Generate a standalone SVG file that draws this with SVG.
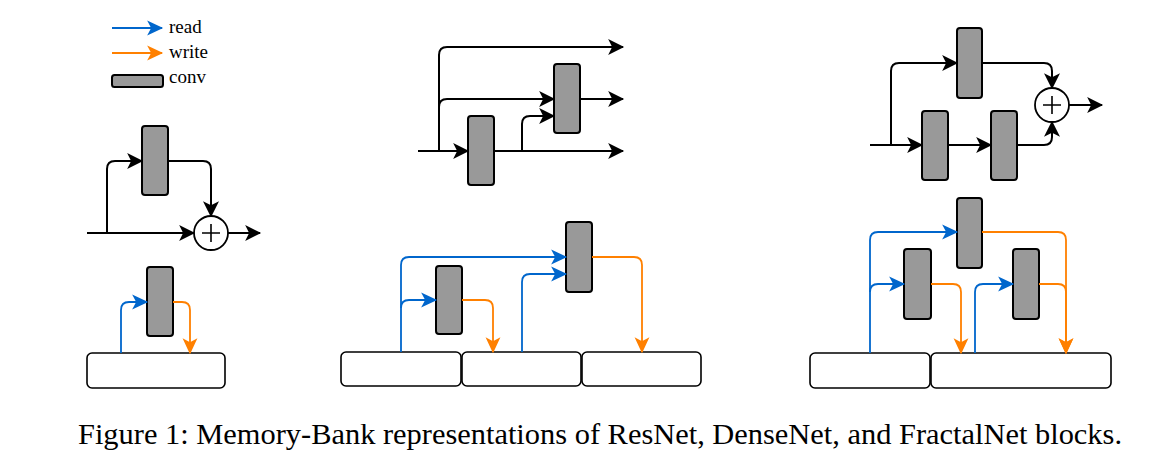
<svg xmlns="http://www.w3.org/2000/svg" width="1154" height="472" viewBox="0 0 1154 472">
  <style>
    .conv { fill: #999999; stroke: #000; stroke-width: 2; }
    .bank { fill: #fff; stroke: #000; stroke-width: 1.6; }
    .sum { fill: #fff; stroke: #000; stroke-width: 1.8; }
    .plus { stroke: #000; stroke-width: 1.6; }
    .k { fill: none; stroke: #000; stroke-width: 2; marker-end: url(#ak); }
    .kn { fill: none; stroke: #000; stroke-width: 2; }
    .r { fill: none; stroke: #0066CC; stroke-width: 1.8; marker-end: url(#ab); }
    .w { fill: none; stroke: #FF8000; stroke-width: 1.8; marker-end: url(#ao); }
    .lbl { font-family: "Liberation Serif", "Times New Roman", serif; font-size: 19px; fill: #000; }
    .cap { font-family: "Liberation Serif", "Times New Roman", serif; font-size: 29px; fill: #000; }
  </style>
  <defs>
    <marker id="ak" markerUnits="userSpaceOnUse" markerWidth="16" markerHeight="16" viewBox="0 -7 14 14" refX="13" refY="0" orient="auto" overflow="visible">
      <path d="M0,-7 L14,0 L0,7 L3.5,0 z" fill="#000"/>
    </marker>
    <marker id="ab" markerUnits="userSpaceOnUse" markerWidth="16" markerHeight="16" viewBox="0 -7 14 14" refX="13" refY="0" orient="auto" overflow="visible">
      <path d="M0,-6.5 L14,0 L0,6.5 L3.5,0 z" fill="#0066CC"/>
    </marker>
    <marker id="ao" markerUnits="userSpaceOnUse" markerWidth="16" markerHeight="16" viewBox="0 -7 14 14" refX="13" refY="0" orient="auto" overflow="visible">
      <path d="M0,-6.5 L14,0 L0,6.5 L3.5,0 z" fill="#FF8000"/>
    </marker>
  </defs>

  <!-- legend -->
  <g id="legend">
    <path class="r" d="M112,28 H162"/>
    <text class="lbl" x="169" y="33">read</text>
    <path class="w" d="M112,53 H162"/>
    <text class="lbl" x="169" y="58">write</text>
    <rect class="conv" x="112" y="75" width="51" height="12" rx="2.5" stroke-width="1.6"/>
    <text class="lbl" x="169" y="83">conv</text>
  </g>

  <!-- ResNet block -->
  <g id="resnet-conv"><rect class="conv" x="142" y="126" width="26" height="69" rx="3"/></g>
  <g id="resnet-sum">
    <circle class="sum" cx="211" cy="233" r="17"/>
    <path class="plus" d="M202,233 H220 M211,224 V242"/>
  </g>
  <g id="resnet-mem-conv"><rect class="conv" x="147" y="267" width="26" height="69" rx="3"/></g>
  <g id="resnet-bank"><rect class="bank" x="87" y="353" width="138" height="35" rx="5"/></g>

  <!-- DenseNet block -->
  <g id="densenet-conv1"><rect class="conv" x="468" y="116" width="26" height="69" rx="3"/></g>
  <g id="densenet-conv2"><rect class="conv" x="554" y="64" width="26" height="69" rx="3"/></g>
  <g id="densenet-mem-conv1"><rect class="conv" x="436" y="266" width="26" height="68" rx="3"/></g>
  <g id="densenet-mem-conv2"><rect class="conv" x="566" y="222" width="26" height="70" rx="3"/></g>
  <g id="densenet-bank1"><rect class="bank" x="341" y="352" width="120" height="34" rx="5"/></g>
  <g id="densenet-bank2"><rect class="bank" x="462" y="352" width="119" height="34" rx="5"/></g>
  <g id="densenet-bank3"><rect class="bank" x="582" y="352" width="119" height="34" rx="5"/></g>

  <!-- FractalNet block -->
  <g id="fractal-conv-top"><rect class="conv" x="957" y="28" width="25" height="70" rx="3"/></g>
  <g id="fractal-conv-left"><rect class="conv" x="922" y="111" width="26" height="69" rx="3"/></g>
  <g id="fractal-conv-right"><rect class="conv" x="991" y="111" width="26" height="69" rx="3"/></g>
  <g id="fractal-sum">
    <circle class="sum" cx="1052" cy="105" r="17"/>
    <path class="plus" d="M1043,105 H1061 M1052,96 V114"/>
  </g>
  <g id="fractal-mem-conv-top"><rect class="conv" x="957" y="198" width="25" height="70" rx="3"/></g>
  <g id="fractal-mem-conv-left"><rect class="conv" x="904" y="249" width="27" height="70" rx="3"/></g>
  <g id="fractal-mem-conv-right"><rect class="conv" x="1013" y="249" width="26" height="70" rx="3"/></g>
  <g id="fractal-bank1"><rect class="bank" x="810" y="353" width="120" height="35" rx="5"/></g>
  <g id="fractal-bank2"><rect class="bank" x="931" y="353" width="180" height="35" rx="5"/></g>

  <g id="connectors">
    <!-- ResNet -->
    <path class="k" d="M87,233 H194"/>
    <path class="k" d="M107,233 V169 Q107,161 115,161 H142"/>
    <path class="k" d="M168,161 H203 Q211,161 211,169 V216"/>
    <path class="k" d="M228,233 H260"/>
    <path class="r" d="M121,353 V310 Q121,302 129,302 H147"/>
    <path class="w" d="M173,302 H182 Q190,302 190,310 V353"/>

    <!-- DenseNet -->
    <path class="k" d="M418,151 H468"/>
    <path class="k" d="M494,151 H623"/>
    <path class="k" d="M439,151 V55 Q439,47 447,47 H623"/>
    <path class="k" d="M439,107 Q439,99 447,99 H554"/>
    <path class="k" d="M580,99 H623"/>
    <path class="k" d="M522,151 V124 Q522,116 530,116 H554"/>
    <path class="r" d="M401,352 V265 Q401,257 409,257 H566"/>
    <path class="r" d="M401,308 Q401,300 409,300 H436"/>
    <path class="w" d="M462,300 H485 Q493,300 493,308 V352"/>
    <path class="r" d="M522,352 V282 Q522,274 530,274 H566"/>
    <path class="w" d="M592,257 H634 Q642,257 642,265 V352"/>

    <!-- FractalNet -->
    <path class="k" d="M870,145 H922"/>
    <path class="k" d="M891,145 V71 Q891,63 899,63 H957"/>
    <path class="k" d="M982,63 H1044 Q1052,63 1052,71 V88"/>
    <path class="k" d="M948,145 H991"/>
    <path class="k" d="M1017,145 H1044 Q1052,145 1052,137 V122"/>
    <path class="k" d="M1069,105 H1102"/>
    <path class="r" d="M870,353 V240 Q870,232 878,232 H957"/>
    <path class="r" d="M870,292 Q870,284 878,284 H904"/>
    <path class="w" d="M931,284 H953 Q961,284 961,292 V353"/>
    <path class="r" d="M975,353 V292 Q975,284 983,284 H1013"/>
    <path class="w" d="M1039,284 H1058 Q1066,284 1066,292 V353"/>
    <path class="w" d="M982,232 H1058 Q1066,232 1066,240 V353"/>
  </g>

  <text class="cap" x="78" y="444" textLength="1044" lengthAdjust="spacingAndGlyphs">Figure 1: Memory-Bank representations of ResNet, DenseNet, and FractalNet blocks.</text>
</svg>
